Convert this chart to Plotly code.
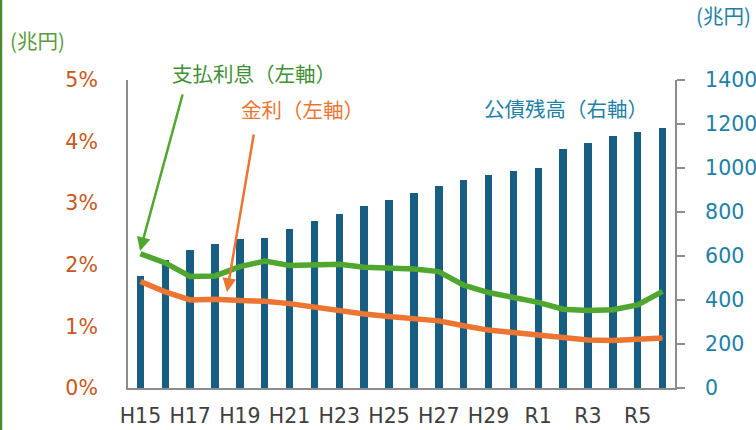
import plotly.graph_objects as go

years = ["H15", "H16", "H17", "H18", "H19", "H20", "H21", "H22", "H23", "H24", "H25",
         "H26", "H27", "H28", "H29", "H30", "R1", "R2", "R3", "R4", "R5", "R6"]
debt = [509, 582, 627, 653, 677, 683, 721, 759, 792, 827, 856,
        885, 918, 944, 967, 986, 999, 1085, 1114, 1144, 1164, 1183]
interest_paid = [2.18, 2.03, 1.81, 1.82, 1.97, 2.06, 1.99, 2.01, 2.01, 1.96, 1.95,
                 1.93, 1.89, 1.67, 1.55, 1.48, 1.39, 1.28, 1.26, 1.27, 1.35, 1.57]
rate = [1.73, 1.56, 1.43, 1.44, 1.42, 1.41, 1.37, 1.31, 1.25, 1.20, 1.16,
        1.12, 1.09, 1.01, 0.94, 0.90, 0.86, 0.82, 0.78, 0.77, 0.79, 0.81]
x_ticks = ["H15", "H17", "H19", "H21", "H23", "H25", "H27", "H29", "R1", "R3", "R5"]
left_ticks = [0, 1, 2, 3, 4, 5]
left_text = ["0%", "1%", "2%", "3%", "4%", "5%"]
right_ticks = [0, 200, 400, 600, 800, 1000, 1200, 1400]

FONT = "DejaVu Sans, Noto Sans CJK JP, sans-serif"
JFONT = "Noto Sans CJK JP, DejaVu Sans, sans-serif"
BLUE_BAR = "#175e82"
BLUE_TXT = "#2280a8"
GREEN = "#4fa72f"
GREEN_TXT = "#428f34"
ORANGE = "#ed7532"
ORANGE_TICK = "#c8581b"
GRAY = "#8c8c8c"

W, H = 756, 430
L, R, T, B = 128, 675, 80, 388


def px(x):
    return (x - L) / (R - L)


def py(y):
    return (B - y) / (B - T)


fig = go.Figure()
fig.add_trace(go.Bar(x=years, y=debt, marker=dict(color=BLUE_BAR, line=dict(width=0)),
                     width=0.3, yaxis="y", name="公債残高"))
fig.add_trace(go.Scatter(x=years, y=interest_paid, mode="lines", yaxis="y2",
                         line=dict(color=GREEN, width=5.5), name="支払利息"))
fig.add_trace(go.Scatter(x=years, y=rate, mode="lines", yaxis="y2",
                         line=dict(color=ORANGE, width=5.5), name="金利"))

TICKSIZE = 20.5
fig.update_layout(
    width=W, height=H,
    margin=dict(l=L, r=W - R, t=T, b=H - B, pad=0, autoexpand=False),
    paper_bgcolor="white", plot_bgcolor="white",
    showlegend=False,
    bargap=0,
    font=dict(family=FONT),
    xaxis=dict(type="category", categoryorder="array", categoryarray=years,
               tickmode="array", tickvals=x_ticks, ticktext=x_ticks, automargin=False,
               showgrid=False, zeroline=False, showline=True, linecolor=GRAY, linewidth=2,
               ticks="", tickfont=dict(size=TICKSIZE, color="#404040", family=FONT),
               ticklabelstandoff=8, range=[-0.5, len(years) - 0.5]),
    yaxis=dict(side="right", range=[0, 1400], tickvals=right_ticks, automargin=False,
               showgrid=False, zeroline=False, showline=True, linecolor=GRAY, linewidth=2,
               ticks="outside", ticklen=8, tickwidth=2, tickcolor=GRAY,
               tickfont=dict(size=TICKSIZE, color=BLUE_TXT, family=FONT),
               ticklabelstandoff=16),
    yaxis2=dict(side="left", overlaying="y", range=[0, 5], tickvals=left_ticks,
                ticktext=left_text, showgrid=False, zeroline=False, showline=True,
                automargin=False,
                linecolor=GRAY, linewidth=2, ticks="",
                tickfont=dict(size=TICKSIZE, color=ORANGE_TICK, family=FONT),
                ticklabelstandoff=24),
)

fig.add_shape(type="line", xref="paper", yref="paper",
              x0=px(1), x1=px(1), y0=py(0), y1=py(430),
              line=dict(color="#4a8a2c", width=2.5))

texts = [
    ("支払利息（左軸）", 254, 73, GREEN_TXT),
    ("金利（左軸）", 302, 109, ORANGE),
    ("公債残高（右軸）", 566, 108, BLUE_TXT),
    ("(兆円)", 37, 40, "#5a9a3c"),
    ("(兆円)", 724, 15, BLUE_TXT),
]
for t, x, y, c in texts:
    fig.add_annotation(text=t, x=px(x), y=py(y), xref="paper", yref="paper",
                       showarrow=False, xanchor="center", yanchor="middle",
                       font=dict(family=JFONT, size=20.5, color=c))

arrows = [
    (140, 251, 183, 93, GREEN),
    (227, 292, 254, 133, ORANGE),
]
for x, y, x0, y0, c in arrows:
    fig.add_annotation(text="", x=px(x), y=py(y), xref="paper", yref="paper",
                       ax=x0 - x, ay=y0 - y, axref="pixel", ayref="pixel",
                       showarrow=True, arrowhead=2, arrowsize=1.1, arrowwidth=2.5,
                       arrowcolor=c, standoff=0)

fig.write_html("out.html", config={"displayModeBar": False},
               post_script="document.body.style.margin='0';document.body.style.overflow='hidden';")
